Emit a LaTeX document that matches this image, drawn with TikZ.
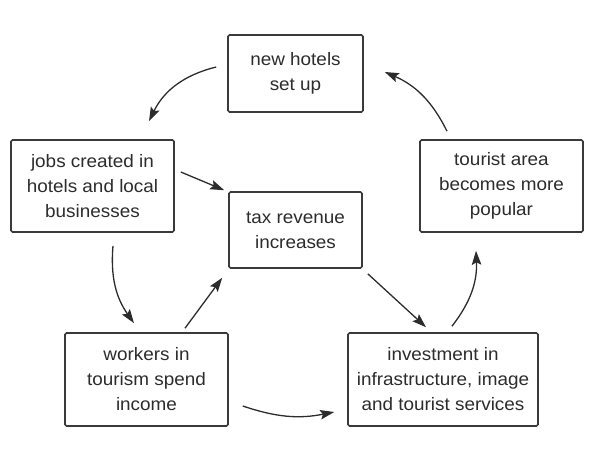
\documentclass[tikz,border=0pt]{standalone}
\usepackage{fontspec}
\setmainfont{Liberation Sans}[FakeStretch=1.05]
\usetikzlibrary{arrows.meta,calc}
\definecolor{ink}{HTML}{2C2C2C}
\definecolor{boxline}{HTML}{3A3A3A}
\tikzset{
  box/.style={draw=boxline, line width=1.6pt, rounded corners=1.5pt, inner sep=0pt,
    align=center, text=ink, font=\fontsize{18}{25}\selectfont},
  flow/.style={draw=ink, line width=1.3pt, -{Stealth[length=14pt,width=9.5pt,inset=2.5pt]}}
}
\begin{document}
\begin{tikzpicture}[x=1pt,y=-1pt]
\useasboundingbox (0,0) rectangle (595,473);
\node[box, minimum width=135pt, minimum height=77pt] (hotels) at (295.5,73.5) {new hotels\\set up};
\node[box, minimum width=163pt, minimum height=92pt] (jobs) at (92.5,186) {jobs created in\\hotels and local\\businesses};
\node[box, minimum width=133pt, minimum height=76pt] (tax) at (295.5,230) {tax revenue\\increases};
\node[box, minimum width=163pt, minimum height=92pt] (tourist) at (501.5,186) {tourist area\\becomes more\\popular};
\node[box, minimum width=163pt, minimum height=93pt] (workers) at (146.5,379.5) {workers in\\tourism spend\\income};
\node[box, minimum width=190pt, minimum height=93pt] (invest) at (443,379.5) {investment in\\infrastructure, image\\and tourist services};

\coordinate (a1s) at ($(hotels.west)+(-11,-6.5)$);
\coordinate (a1e) at ($(jobs.north)+(56.5,-18)$);
\coordinate (a2s) at ($(tourist.north)+(-54.5,-8)$);
\coordinate (a2e) at ($(hotels.east)+(21,-1.5)$);
\coordinate (a3s) at ($(jobs.east)+(6,-14)$);
\coordinate (a3e) at ($(tax.north west)+(-4,-1)$);
\coordinate (a4s) at ($(jobs.south)+(20.5,13)$);
\coordinate (a4e) at ($(workers.north)+(-12.5,-9)$);
\coordinate (a5s) at ($(workers.north)+(38.5,-4)$);
\coordinate (a5e) at ($(tax.south west)+(-6,9)$);
\coordinate (a6s) at ($(tax.south east)+(5,5)$);
\coordinate (a6e) at ($(invest.north)+(-17,-5)$);
\coordinate (a7s) at ($(workers.east)+(14,26.5)$);
\coordinate (a7e) at ($(invest.west)+(-13,32.5)$);
\coordinate (a8s) at ($(invest.north)+(9,-6)$);
\coordinate (a8e) at ($(tourist.south)+(-25.5,18)$);

\draw[flow] (a1s) to[bend right=25] (a1e);
\draw[flow] (a2s) to[bend right=20] (a2e);
\draw[flow] (a3s) -- (a3e);
\draw[flow] (a4s) to[bend right=20] (a4e);
\draw[flow] (a5s) -- (a5e);
\draw[flow] (a6s) -- (a6e);
\draw[flow] (a7s) to[bend right=15] (a7e);
\draw[flow] (a8s) to[bend right=20] (a8e);
\end{tikzpicture}
\end{document}
